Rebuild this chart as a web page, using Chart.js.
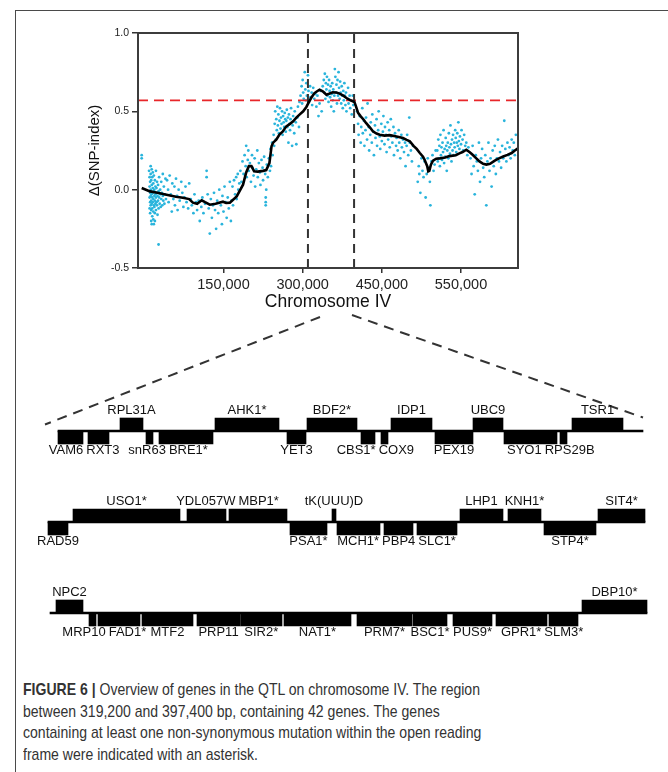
<!DOCTYPE html>
<html><head><meta charset="utf-8">
<script src="https://cdn.jsdelivr.net/npm/chart.js@4.4.1/dist/chart.umd.min.js"></script>
<style>
html,body{margin:0;padding:0;background:#fff;width:668px;height:772px;overflow:hidden;}
#frame{position:absolute;left:15px;top:10px;width:720px;height:820px;border:1.5px solid #4a4a4a;box-sizing:border-box;}
#top{position:absolute;left:0;top:0;}
#genes{position:absolute;left:0;top:300px;}
#caption{position:absolute;left:23px;top:679px;font-family:"Liberation Sans",Arial,sans-serif;font-size:17px;line-height:21.5px;color:#333;white-space:nowrap;transform-origin:0 0;}
#caption span{display:inline-block;}
</style></head><body>
<div id="frame"></div>
<canvas id="top" width="668" height="320"></canvas>
<canvas id="genes" width="668" height="360"></canvas>
<div id="caption"><div><span id="cap1"><b>FIGURE 6 |</b> Overview of genes in the QTL on chromosome IV. The region</span></div><div><span>between 319,200 and 397,400 bp, containing 42 genes. The genes</span></div><div><span>containing at least one non-synonymous mutation within the open reading</span></div><div><span>frame were indicated with an asterisk.</span></div></div>
<script>
// ---------- DATA (top panel, x in kb) ----------
const xTickValues = [150, 300, 450, 600];
const xTickLabels = ["150,000", "300,000", "450,000", "550,000"];
const yTickValues = [-0.5, 0.0, 0.5, 1.0];
const yTickLabels = ["-0.5", "0.0", "0.5", "1.0"];
const xRange = [-12, 708];
const yRange = [-0.5, 1.0];
const qtlBounds = [310, 397.4];
const threshold = 0.57;

const smoothCurve = [[-5,0.011],[10.7,-0.011],[25,-0.02],[42,-0.032],[60,-0.045],[73,-0.051],[85,-0.06],[92,-0.083],[100,-0.09],[108.7,-0.068],[115,-0.08],[124,-0.096],[135,-0.09],[149,-0.077],[155,-0.085],[162,-0.083],[175,-0.043],[187,0.032],[193,0.11],[198,0.15],[203,0.15],[208,0.117],[215,0.115],[225,0.12],[231,0.125],[237,0.17],[241,0.277],[244,0.3],[250,0.319],[256,0.351],[262,0.37],[269,0.404],[276,0.42],[282,0.436],[288,0.46],[294,0.479],[301,0.5],[307,0.528],[312,0.56],[316,0.585],[322,0.615],[326,0.625],[332,0.638],[338,0.628],[345,0.606],[350,0.612],[357,0.621],[364,0.62],[370,0.613],[377,0.6],[383,0.585],[390,0.572],[395,0.564],[398,0.56],[401,0.532],[405,0.49],[410,0.468],[416,0.445],[420,0.426],[428,0.395],[433,0.372],[440,0.358],[446,0.351],[455,0.345],[465,0.348],[478,0.34],[490,0.33],[497,0.318],[503,0.309],[510,0.28],[516,0.26],[522,0.234],[528,0.21],[531,0.191],[536,0.15],[538,0.117],[540,0.12],[543,0.16],[547,0.185],[553,0.198],[560,0.2],[570,0.205],[578,0.214],[590,0.22],[597,0.232],[603,0.24],[610,0.255],[616,0.24],[622,0.223],[629,0.2],[635,0.18],[642,0.165],[648,0.16],[655,0.165],[664,0.185],[672,0.2],[680,0.212],[688,0.222],[696,0.234],[702,0.25],[708,0.264]];

const snpPoints = [
[9,0.12],[10,0.08],[10,0.02],[10,-0.05],[10,-0.12],[11,0.05],[11,-0.02],[11,-0.08],[11,-0.15],[12,0.15],[12,0.1],[12,0.0],[12,-0.04],[12,-0.1],[13,0.06],[13,-0.01],[13,-0.07],[13,-0.13],[13,-0.2],[14,0.13],[14,0.03],[14,-0.03],[14,-0.09],[15,0.08],[15,-0.05],[15,-0.12],[15,-0.17],[16,0.11],[16,0.01],[16,-0.02],[16,-0.08],[17,0.04],[17,-0.06],[17,-0.14],[18,0.09],[18,-0.01],[18,-0.1],[18,-0.22],[19,0.0],[19,-0.04],[19,-0.11],[20,0.06],[20,-0.07],[20,-0.15],[21,0.02],[21,-0.03],[21,-0.09],[22,0.12],[22,-0.05],[22,-0.13],[23,0.01],[23,-0.08],[24,0.05],[24,-0.02],[24,-0.1],[25,-0.04],[25,-0.16],[26,0.03],[26,-0.07],[27,-0.01],[27,-0.12],[28,0.08],[28,-0.05],[29,-0.09],[30,0.0],[30,-0.03],[31,-0.11],[32,0.05],[32,-0.06],[33,-0.02],[34,-0.1],[35,0.1],[35,-0.04],[36,-0.07],[37,0.02],[38,-0.09],[39,-0.03],[40,0.07],[41,-0.06],[-5,0.22],[-5,0.2],[27,-0.35],[20,-0.2],[14,-0.22],[17,-0.19],
[43,0.06],[45,0.0],[46,-0.08],[48,0.09],[50,-0.03],[52,-0.14],[53,0.04],[55,-0.06],[57,0.02],[58,-0.1],[60,0.07],[62,-0.04],[63,-0.13],[65,0.0],[67,-0.07],[70,0.05],[72,-0.02],[74,-0.11],[76,-0.05],[78,0.02],[80,-0.08],[83,-0.12],[85,0.04],[88,-0.06],[90,-0.1],[93,-0.15],[95,-0.03],[98,-0.08],[100,-0.13],[103,-0.07],[105,-0.2],[108,-0.11],[110,-0.05],[112,-0.15],[115,-0.09],[118,0.12],[118,0.08],[120,-0.03],[122,-0.12],[124,-0.28],[126,-0.06],[128,-0.18],[130,-0.1],[132,-0.02],[134,-0.13],[136,-0.25],[138,-0.07],[140,-0.15],[142,0.0],[145,-0.1],[147,-0.22],[148,-0.04],[150,-0.14],[152,0.02],[154,-0.08],[156,-0.18],[158,-0.05],[160,-0.12],[162,0.05],[164,-0.2],[165,-0.07],[167,0.02],[168,-0.1],[170,0.06],[172,-0.03],[174,0.08],[175,-0.06],[177,0.1],[178,0.0],[180,0.04],
[182,0.12],[184,0.05],[186,0.18],[188,0.1],[190,0.22],[192,0.15],[193,0.28],[194,0.08],[196,0.19],[197,0.25],[198,0.12],[200,0.17],[202,0.05],[204,0.22],[205,0.14],[207,0.09],[209,0.2],[210,0.02],[212,0.13],[214,0.25],[215,0.08],[217,0.17],[219,0.11],[220,0.03],[222,0.19],[224,0.14],[225,0.06],[227,0.21],[229,0.1],[230,-0.08],[230,-0.05],[230,-0.1],[231,0.0],[232,0.16],[234,0.08],[236,0.2],[238,0.12],[239,0.26],[240,0.15],[242,0.3],[243,0.22],
[245,0.35],[246,0.28],[247,0.42],[248,0.5],[249,0.32],[250,0.45],[251,0.38],[252,0.53],[253,0.41],[254,0.48],[255,0.36],[256,0.44],[257,0.52],[258,0.39],[259,0.46],[260,0.42],[261,0.5],[262,0.35],[263,0.47],[264,0.43],[265,0.4],[266,0.49],[267,0.45],[268,0.37],[269,0.44],[270,0.51],[271,0.4],[272,0.46],[273,0.3],[274,0.48],[275,0.42],[276,0.38],[277,0.45],[278,0.52],[280,0.28],[281,0.41],[282,0.47],[284,0.36],[285,0.5],[287,0.43],[288,0.29],[290,0.46],[291,0.53],[293,0.4],[294,0.56],
[296,0.6],[298,0.66],[299,0.55],[300,0.7],[301,0.62],[302,0.58],[304,0.75],[305,0.64],[306,0.57],[307,0.68],[308,0.6],[310,0.73],[311,0.63],[312,0.56],[314,0.66],[315,0.59],[317,0.62],[318,0.54],[320,0.65],[322,0.58],[324,0.61],[326,0.53],[328,0.6],[330,0.47],[332,0.55],[334,0.63],[336,0.5],[338,0.66],[340,0.7],[341,0.62],[342,0.74],[343,0.58],[344,0.68],[345,0.64],[346,0.72],[347,0.6],[348,0.67],[349,0.56],[350,0.7],[351,0.63],[352,0.59],[353,0.66],[354,0.53],[355,0.61],[356,0.68],[357,0.57],[358,0.64],[359,0.5],[360,0.6],[361,0.77],[362,0.72],[363,0.62],[364,0.67],[365,0.55],[366,0.7],[367,0.6],[368,0.75],[369,0.65],[370,0.58],[371,0.69],[372,0.62],[373,0.55],[374,0.66],[375,0.6],[376,0.52],[377,0.63],[378,0.57],[379,0.68],[380,0.6],[381,0.54],[382,0.62],[383,0.5],[385,0.58],[386,0.65],[387,0.55],[389,0.6],[390,0.52],[392,0.57],[393,0.48],[395,0.6],[396,0.54],
[403,0.5],[405,0.42],[406,0.35],[408,0.47],[410,0.3],[411,0.4],[413,0.52],[414,0.36],[416,0.44],[417,0.28],[419,0.38],[420,0.46],[422,0.32],[423,0.55],[425,0.4],[426,0.25],[428,0.35],[429,0.43],[431,0.3],[432,0.48],[434,0.37],[435,0.22],[437,0.41],[438,0.33],[440,0.45],[441,0.28],[443,0.38],[444,0.5],[446,0.34],[447,0.26],[449,0.42],[450,0.31],[452,0.37],[453,0.47],[455,0.29],[456,0.4],[458,0.35],[459,0.24],[461,0.43],[462,0.32],[464,0.38],[465,0.27],[467,0.45],[468,0.34],[470,0.3],[472,0.4],[473,0.22],[475,0.36],[477,0.28],[478,0.33],[480,0.25],[482,0.38],[483,0.3],[485,0.2],[487,0.35],[488,0.27],[490,0.32],[492,0.24],[494,0.3],[495,0.15],[497,0.28],[498,0.35],[500,0.22],[502,0.46],[503,0.3],[505,0.25],[507,0.18],[509,0.28],
[518,0.05],[520,0.15],[521,0.1],[523,-0.02],[525,0.2],[527,0.12],[529,0.08],[531,0.18],[533,-0.05],[535,0.1],[537,0.2],[539,0.14],[541,0.05],[542,-0.1],[544,0.18],[546,0.22],[548,0.12],[550,0.16],[552,0.25],
[555,0.25],[556,0.18],[557,0.32],[558,0.2],[559,0.28],[560,0.15],[561,0.35],[562,0.22],[563,0.27],[564,0.19],[565,0.3],[566,0.24],[567,0.38],[568,0.17],[569,0.26],[570,0.21],[571,0.33],[572,0.28],[573,0.12],[574,0.25],[575,0.3],[576,0.2],[577,0.36],[578,0.27],[579,0.23],[580,0.41],[581,0.29],[582,0.18],[583,0.32],[584,0.25],[585,0.35],[586,0.22],[587,0.3],[588,0.27],[589,0.38],[590,0.33],[591,0.24],[592,0.3],[593,0.36],[594,0.28],[595,0.43],[596,0.31],[597,0.26],[598,0.34],[600,0.29],[601,0.38],[603,0.32],[604,0.25],[606,0.35],[608,0.28],[610,0.3],[612,0.22],[614,0.27],
[618,0.2],[620,0.1],[622,0.28],[624,0.15],[626,-0.03],[628,0.22],[630,0.18],[632,0.12],[634,0.3],[636,0.05],[638,0.2],[640,0.26],[642,0.14],[644,0.08],[646,0.22],[648,-0.1],[650,0.18],[652,0.3],[654,0.12],[656,0.2],[658,0.02],[660,0.25],[662,0.15],[664,0.28],[666,0.1],[668,0.2],[670,0.32],[672,0.18],[674,0.24],[676,0.14],[678,0.28],[680,0.2],[682,0.44],[684,0.26],[686,0.18],[688,0.3],[690,0.22],[692,0.27],[694,0.2],[696,0.32],[698,0.25],[700,0.3],[702,0.22],[704,0.35]
];

// ---------- DATA (gene map, positions in map units) ----------
const row1Genes = [["VAM6",13,38,"down"],["RXT3",43,64,"down"],["RPL31A",75,98,"up"],["snR63",101,108,"down"],["BRE1*",114,168,"down"],["AHK1*",170,234,"up"],["YET3",242,261,"down"],["BDF2*",262,312,"up"],["CBS1*",316,330,"down"],["COX9",336,343,"down"],["IDP1",346,387,"up"],["PEX19",390,428,"down"],["UBC9",428,458,"up"],["SYO1",459,512,"down"],["RPS29B",515,522,"down"],["TSR1",527,578,"up"]];
const row2Genes = [["RAD59",3,23,"down"],["USO1*",28,135,"up"],["YDL057W",142,181,"up"],["MBP1*",184,242,"up"],["PSA1*",245,282,"down"],["tK(UUU)D",287,291,"up"],["MCH1*",292,335,"down"],["PBP4",339,368,"down"],["SLC1*",372,412,"down"],["LHP1",415,458,"up"],["KNH1*",463,496,"up"],["STP4*",499,551,"down"],["SIT4*",553,600,"up"]];
const row3Genes = [["NPC2",11,38,"up"],["MRP10",44,51,"down"],["FAD1*",53,95,"down"],["MTF2",97,148,"down"],["PRP11",152,195,"down"],["SIR2*",195.6,237,"down"],["NAT1*",239,306,"down"],["PRM7*",312,367,"down"],["BSC1*",368,402,"down"],["PUS9*",408,447,"down"],["GPR1*",451,502,"down"],["SLM3*",504,533,"down"],["DBP10*",537,602,"up"]];
const rowLineStart = [13, 3, 5];
const rowLineEnd = [598, 600, 602];

// ---------- TOP PANEL ----------
const FONT = '"Liberation Sans", Arial, sans-serif';
const boxPlugin = {
  id: 'box',
  afterDatasetsDraw(chart) {
    const a = chart.chartArea, c = chart.ctx;
    c.save(); c.strokeStyle = '#3c3c3c'; c.lineWidth = 2;
    c.strokeRect(a.left, a.top, a.right - a.left, a.bottom - a.top);
    c.restore();
  }
};
const topChart = new Chart(document.getElementById('top'), {
  type: 'scatter',
  data: { datasets: [
    { label: 'smoothed', data: smoothCurve.map(([x, y]) => ({x, y})), showLine: true, borderColor: '#000', borderWidth: 2.6, pointRadius: 0, order: 0 },
    { label: 'qtlStart', data: [{x: qtlBounds[0], y: yRange[0]}, {x: qtlBounds[0], y: yRange[1]}], showLine: true, borderColor: '#333', borderWidth: 2, borderDash: [9, 6], pointRadius: 0, order: 1 },
    { label: 'qtlEnd', data: [{x: qtlBounds[1], y: yRange[0]}, {x: qtlBounds[1], y: yRange[1]}], showLine: true, borderColor: '#333', borderWidth: 2, borderDash: [9, 6], pointRadius: 0, order: 1 },
    { label: 'threshold', data: [{x: xRange[0], y: threshold}, {x: xRange[1], y: threshold}], showLine: true, borderColor: '#e8262a', borderWidth: 1.6, borderDash: [10, 6], pointRadius: 0, order: 2 },
    { label: 'SNP', data: snpPoints.map(([x, y]) => ({x, y})), pointRadius: 1.4, pointBorderWidth: 0, backgroundColor: '#29b4dc', borderColor: '#29b4dc', order: 3 }
  ]},
  options: {
    responsive: false, animation: false, devicePixelRatio: 1,
    layout: { padding: { left: 86, top: 33, right: 150, bottom: 0 } },
    plugins: { legend: { display: false }, tooltip: { enabled: false } },
    scales: {
      x: {
        type: 'linear', min: xRange[0], max: xRange[1],
        afterBuildTicks(s) { s.ticks = xTickValues.map(v => ({value: v})); },
        afterFit(s) { s.height = 52; },
        ticks: { callback: (v, i) => xTickLabels[i], font: {family: FONT, size: 14.5}, color: '#222', padding: 3, maxRotation: 0, autoSkip: false },
        grid: { display: true, drawOnChartArea: false, drawTicks: true, tickLength: 5, color: '#333', lineWidth: 1.5 },
        border: { display: true, color: '#3c3c3c', width: 2 },
        title: { display: true, text: 'Chromosome IV', font: {family: FONT, size: 17.5}, color: '#111', padding: {top: 0, bottom: 7} }
      },
      y: {
        type: 'linear', min: yRange[0], max: yRange[1],
        afterBuildTicks(s) { s.ticks = yTickValues.map(v => ({value: v})); },
        afterFit(s) { s.width = 52; },
        ticks: { callback: (v, i) => yTickLabels[i], font: {family: FONT, size: 10.5}, color: '#222', padding: 3, autoSkip: false },
        grid: { display: true, drawOnChartArea: false, drawTicks: true, tickLength: 6, color: '#333', lineWidth: 1.5 },
        border: { display: true, color: '#3c3c3c', width: 2 },
        title: { display: true, text: 'Δ(SNP-index)', font: {family: FONT, size: 15}, color: '#111', padding: 0 }
      }
    }
  },
  plugins: [boxPlugin]
});

// ---------- GENE MAP ----------
const ROW_GAP = 7;          // track units between rows
const UNIT_PX = 13;         // pixels per track unit
const ROW0_PX = 131;        // first row line inside the canvas
const GENES_H = 360;
const rows = [row1Genes, row2Genes, row3Genes];

const genePlugin = {
  id: 'geneLabels',
  beforeDatasetsDraw(chart) {
    const c = chart.ctx, xs = chart.scales.x, ys = chart.scales.y;
    const canvasTop = 300;
    // zoom connectors from the QTL under the x-axis title to the first row
    c.save();
    c.strokeStyle = '#333'; c.lineWidth = 2; c.setLineDash([10, 7]);
    const yb = ys.getPixelForValue(-0.5);
    c.beginPath(); c.moveTo(320, 317 - canvasTop); c.lineTo(xs.getPixelForValue(0), yb); c.stroke();
    c.beginPath(); c.moveTo(352, 315 - canvasTop); c.lineTo(xs.getPixelForValue(rowLineEnd[0]), yb - 7); c.stroke();
    c.restore();
  },
  afterDatasetsDraw(chart) {
    const c = chart.ctx, xs = chart.scales.x, ys = chart.scales.y;
    c.save();
    c.font = '13px ' + FONT; c.fillStyle = '#111';
    c.textAlign = 'center'; c.textBaseline = 'middle';
    rows.forEach((genes, r) => {
      ['up', 'down'].forEach(side => {
        const items = genes.filter(g => g[3] === side).map(g => {
          const cx = (xs.getPixelForValue(g[1]) + xs.getPixelForValue(g[2])) / 2;
          return { text: g[0], cx, x: cx, w: c.measureText(g[0]).width };
        }).sort((a, b) => a.cx - b.cx);
        for (let it = 0; it < 200; it++) {
          let moved = false;
          for (let i = 0; i < items.length - 1; i++) {
            const a = items[i], b = items[i + 1];
            const ov = (a.x + a.w / 2 + 3) - (b.x - b.w / 2);
            if (ov > 0.01) { a.x -= ov / 2; b.x += ov / 2; moved = true; }
          }
          if (!moved) break;
        }
        const y = ys.getPixelForValue(r * ROW_GAP + (side === 'up' ? -1.55 : 1.5));
        items.forEach(it => c.fillText(it.text, it.x, y));
      });
    });
    c.restore();
  }
};

const geneBars = [];
rows.forEach((genes, r) => genes.forEach(g => {
  geneBars.push({ x: [g[1], g[2]], y: r * ROW_GAP + (g[3] === 'up' ? -0.5 : 0.5) });
}));
const lineBars = rowLineStart.map((s, r) => ({ x: [s, rowLineEnd[r]], y: r * ROW_GAP }));

new Chart(document.getElementById('genes'), {
  type: 'bar',
  data: { datasets: [
    { label: 'genes', data: geneBars, backgroundColor: '#000', borderWidth: 0, barThickness: UNIT_PX, grouped: false, clip: false },
    { label: 'chromosome', data: lineBars, backgroundColor: '#000', borderWidth: 0, barThickness: 2, grouped: false, clip: false }
  ]},
  options: {
    indexAxis: 'y', responsive: false, animation: false, devicePixelRatio: 1,
    layout: { padding: { left: 45, right: 18, top: 0, bottom: 0 } },
    plugins: { legend: { display: false }, tooltip: { enabled: false } },
    scales: {
      x: { type: 'linear', min: 0, max: 605, display: false },
      y: { type: 'linear', reverse: true, offset: false, display: false,
           min: -ROW0_PX / UNIT_PX, max: (GENES_H - ROW0_PX) / UNIT_PX }
    }
  },
  plugins: [genePlugin]
});

// caption width fit
const cap = document.getElementById('caption');
const w1 = document.getElementById('cap1').getBoundingClientRect().width;
cap.style.transform = 'scaleX(' + (457 / w1) + ')';
</script>
</body></html>
